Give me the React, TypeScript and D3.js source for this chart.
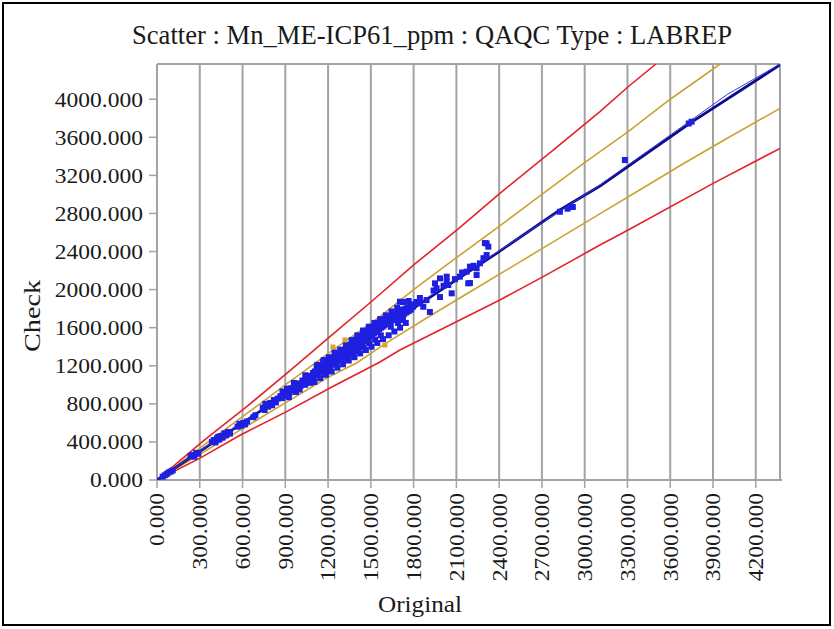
import React from "react";
import * as d3 from "d3";

// ---- data ----
const titleText = "Scatter : Mn_ME-ICP61_ppm : QAQC Type : LABREP";
const xLabel = "Original";
const yLabel = "Check";
const axisMax = 4370;
const xTicks = [0, 300, 600, 900, 1200, 1500, 1800, 2100, 2400, 2700, 3000, 3300, 3600, 3900, 4200];
const yTicks = [0, 400, 800, 1200, 1600, 2000, 2400, 2800, 3200, 3600, 4000];

// LABREP pairs [original, check]
const pairsLow: [number, number][] = [
  [40, 35], [55, 50], [68, 62], [80, 78], [95, 88], [110, 100],
  [235, 250], [250, 262], [262, 245], [275, 285], [290, 276],
  [385, 400], [398, 420], [410, 395], [422, 440], [436, 425], [448, 462], [460, 445], [472, 490], [485, 470], [498, 505], [512, 488], [430, 455],
  [565, 560], [578, 590], [592, 570], [605, 600], [618, 585], [632, 615], [676, 660], [690, 680],
];
const pairsMid: [number, number][] = [
  [742, 760], [755, 735], [768, 790], [780, 770], [795, 810], [808, 785], [820, 840], [834, 815], [846, 855], [760, 800],
  [865, 880], [878, 860], [892, 905], [905, 885], [918, 940], [930, 915], [944, 965], [956, 940], [968, 990], [980, 960],
  [994, 1015], [1006, 985], [1020, 1045], [1032, 1010], [1045, 1070], [1058, 1040], [1070, 1095], [1082, 1060], [1095, 1125],
  [912, 960], [975, 925], [1040, 1000], [880, 930], [925, 870], [960, 1020], [1000, 950], [1040, 1100], [1075, 1020],
  [1100, 1090], [1108, 1140], [1116, 1105], [1124, 1165], [1132, 1120], [1140, 1185], [1148, 1135], [1156, 1200], [1164, 1150],
  [1172, 1215], [1180, 1165], [1188, 1235], [1196, 1180], [1204, 1250], [1212, 1195], [1220, 1265], [1228, 1210], [1236, 1280],
  [1244, 1225], [1252, 1295], [1260, 1240], [1268, 1310], [1276, 1255], [1284, 1320], [1292, 1270], [1300, 1335],
  [1120, 1190], [1170, 1260], [1210, 1150], [1250, 1320],
];
const pairsDense: [number, number][] = [
  [1306, 1290], [1312, 1350], [1318, 1305], [1324, 1370], [1330, 1320], [1336, 1385], [1342, 1335], [1348, 1400], [1354, 1350],
  [1360, 1415], [1366, 1360], [1372, 1430], [1378, 1375], [1384, 1445], [1390, 1390], [1396, 1460], [1402, 1400], [1408, 1475],
  [1414, 1415], [1420, 1490], [1426, 1430], [1432, 1500], [1438, 1445], [1444, 1515], [1450, 1460], [1456, 1530], [1462, 1470],
  [1468, 1545], [1474, 1485], [1480, 1560], [1486, 1500], [1492, 1570], [1498, 1515], [1504, 1580], [1510, 1530], [1516, 1595],
  [1522, 1545], [1528, 1605], [1534, 1555], [1540, 1620], [1546, 1570], [1552, 1630], [1558, 1585], [1564, 1645], [1570, 1600],
  [1576, 1655], [1582, 1610], [1588, 1670], [1594, 1625], [1600, 1680],
  [1330, 1275], [1370, 1310], [1410, 1355], [1450, 1395], [1490, 1435], [1530, 1475], [1570, 1520],
  [1350, 1420], [1400, 1480], [1450, 1545], [1500, 1600], [1550, 1650],
  [1606, 1640], [1614, 1690], [1622, 1650], [1630, 1705], [1638, 1665], [1646, 1720], [1654, 1680], [1662, 1735], [1670, 1695],
  [1678, 1750], [1686, 1705], [1694, 1760], [1702, 1720], [1710, 1775], [1718, 1730], [1726, 1790], [1734, 1745], [1742, 1800],
  [1750, 1760], [1758, 1815], [1766, 1775], [1774, 1830], [1782, 1790], [1790, 1845], [1640, 1610], [1690, 1650],
  [1725, 1870], [1704, 1873], [1725, 1681],
];
const pairsBandEdges: [number, number][] = [
  [1105, 1030], [1125, 1210], [1145, 1070], [1165, 1245], [1185, 1105], [1205, 1290], [1225, 1140], [1245, 1340],
  [1265, 1180], [1285, 1370], [1305, 1215], [1325, 1420], [1345, 1255], [1365, 1470], [1385, 1290], [1405, 1520],
  [1425, 1330], [1445, 1570], [1465, 1365], [1485, 1610], [1505, 1400], [1525, 1650], [1545, 1440], [1565, 1690],
  [1585, 1480], [1605, 1730], [1625, 1520], [1645, 1770], [1665, 1560], [1685, 1810], [1705, 1600], [1745, 1650], [1765, 1880],
];
const pairsSpread: [number, number][] = [
  [1797, 1820], [1820, 1870], [1844, 1856], [1844, 1912], [1868, 1820], [1891, 1890], [1914, 1765], [1940, 1990], [1950, 2066],
  [1961, 2014], [1985, 1922], [1985, 2118], [2010, 2040], [2032, 2083], [2032, 2136], [2043, 2048], [2067, 1961], [2090, 2110],
  [2125, 2136], [2140, 2180], [2172, 2188], [2183, 2066], [2195, 2241], [2195, 2069], [2220, 2250], [2242, 2153], [2242, 2224],
  [2265, 2276], [2290, 2330], [2312, 2363], [2312, 2486], [2324, 2451], [2300, 2489],
];
const pairsHigh: [number, number][] = [
  [2826, 2818], [2880, 2850], [2917, 2868], [3282, 3361], [3730, 3745], [3750, 3764],
];
// points just outside the 10% limits (orange)
const pairsOutside10: [number, number][] = [
  [1234, 1397], [1318, 1471], [1599, 1418],
];

// limit lines [original, check]
const upperRed: [number, number][] = [
  [0, 0], [325, 410], [629, 770], [933, 1150], [1213, 1505], [1517, 1891], [1809, 2270], [2113, 2637],
  [2405, 3012], [2779, 3466], [3107, 3869], [3305, 4131], [3500, 4370],
];
const lowerRed: [number, number][] = [
  [0, 0], [302, 230], [582, 470], [909, 718], [1213, 966], [1564, 1240], [1704, 1366], [2405, 1891],
  [2709, 2136], [3107, 2468], [3305, 2626], [3901, 3116], [4370, 3484],
];
const upperGold: [number, number][] = [
  [0, 0], [300, 335], [600, 665], [900, 1000], [1234, 1365], [1564, 1716], [1800, 2000], [2100, 2335],
  [2400, 2665], [2709, 3010], [3000, 3335], [3305, 3659], [3600, 4000], [3950, 4370],
];
const lowerGold: [number, number][] = [
  [0, 0], [300, 270], [600, 540], [900, 810], [1200, 1080], [1400, 1229], [1599, 1430], [1900, 1710],
  [2200, 1980], [2500, 2250], [2800, 2520], [3100, 2790], [3400, 3060], [3700, 3330], [4000, 3590], [4370, 3904],
];
const trendLine: [number, number][] = [
  [0, 0], [800, 800], [1600, 1610], [2382, 2381], [2826, 2836], [3107, 3088], [3750, 3760], [4370, 4360],
];
const trendLineThin: [number, number][] = [
  [0, 0], [1600, 1620], [2382, 2390], [3107, 3100], [3700, 3730], [4000, 4050], [4370, 4370],
];

// ---- layout ----
const W = 834;
const H = 629;
const plotL = 157;
const plotR = 780;
const plotT = 64;
const plotB = 480;
const FONT = "'Liberation Serif', 'Times New Roman', serif";

export default function App() {
  const x = d3.scaleLinear().domain([0, axisMax]).range([plotL, plotR]);
  const y = d3.scaleLinear().domain([0, axisMax]).range([plotB, plotT]);
  const line = d3
    .line<[number, number]>()
    .x((d) => x(d[0]))
    .y((d) => y(d[1]));

  const allBlue = [...pairsLow, ...pairsMid, ...pairsDense, ...pairsBandEdges, ...pairsSpread, ...pairsHigh];
  const grid = "#a3a3a3";
  const ms = 6;

  return (
    <svg
      width={W}
      height={H}
      style={{ position: "absolute", left: 0, top: 0, background: "#fff" }}
      fontFamily={FONT}
    >
      <defs>
        <clipPath id="plotClip">
          <rect x={plotL} y={plotT} width={plotR - plotL} height={plotB - plotT} />
        </clipPath>
      </defs>
      <rect x={0} y={0} width={W} height={H} fill="#fff" />
      <rect x={3} y={3} width={827} height={622} fill="none" stroke="#000" strokeWidth={2} />

      <text
        x={132}
        y={44}
        fontSize={27}
        fill="#1a1a1a"
        textLength={600}
        lengthAdjust="spacingAndGlyphs"
      >
        {titleText}
      </text>

      {/* vertical grid lines */}
      {xTicks.filter((t) => t > 0).map((t) => (
        <line key={"g" + t} x1={x(t)} x2={x(t)} y1={plotT} y2={plotB} stroke={grid} strokeWidth={2} />
      ))}
      {/* plot frame */}
      <line x1={plotL} x2={plotR} y1={plotT} y2={plotT} stroke={grid} strokeWidth={2} />
      <line x1={plotR} x2={plotR} y1={plotT} y2={plotB} stroke={grid} strokeWidth={2} />
      <line x1={plotL} x2={plotL} y1={plotT} y2={plotB} stroke={grid} strokeWidth={2} />
      <line x1={plotL} x2={plotR + 2} y1={plotB} y2={plotB} stroke={grid} strokeWidth={2} />

      {/* y ticks */}
      {yTicks.map((t) => (
        <g key={"y" + t}>
          <line x1={plotL - 8} x2={plotL} y1={y(t)} y2={y(t)} stroke={grid} strokeWidth={1.5} />
          <text
            transform={`translate(143,${y(t)}) scale(1.12,1)`}
            textAnchor="end"
            dy="0.35em"
            fontSize={21}
            fill="#1a1a1a"
          >
            {t.toFixed(3)}
          </text>
        </g>
      ))}
      {/* x ticks */}
      {xTicks.map((t) => (
        <g key={"x" + t}>
          <line x1={x(t)} x2={x(t)} y1={plotB} y2={plotB + 8} stroke={grid} strokeWidth={1.5} />
          <text
            transform={`translate(${x(t)},493) rotate(-90) scale(1.12,1)`}
            textAnchor="end"
            dy="0.35em"
            fontSize={21}
            fill="#1a1a1a"
          >
            {t.toFixed(3)}
          </text>
        </g>
      ))}

      <text x={420} y={612} textAnchor="middle" fontSize={23} fill="#1a1a1a" textLength={84} lengthAdjust="spacingAndGlyphs">
        {xLabel}
      </text>
      <text
        transform={`translate(40,316) rotate(-90)`}
        textAnchor="middle"
        fontSize={23}
        fill="#1a1a1a"
        textLength={72}
        lengthAdjust="spacingAndGlyphs"
      >
        {yLabel}
      </text>

      <g clipPath="url(#plotClip)" fill="none">
        <path d={line(upperRed) || ""} stroke="#e3222c" strokeWidth={1.6} />
        <path d={line(lowerRed) || ""} stroke="#e3222c" strokeWidth={1.6} />
        <path d={line(upperGold) || ""} stroke="#c9a231" strokeWidth={1.6} />
        <path d={line(lowerGold) || ""} stroke="#c9a231" strokeWidth={1.6} />
        <path d={line(trendLine) || ""} stroke="#0c0c86" strokeWidth={2.8} />
        <path d={line(trendLineThin) || ""} stroke="#3a3ae0" strokeWidth={1} />
      </g>

      <g clipPath="url(#plotClip)">
        {allBlue.map((d, i) => (
          <rect key={"p" + i} x={x(d[0]) - ms / 2} y={y(d[1]) - ms / 2} width={ms} height={ms} fill="#1f1fe0" />
        ))}
        {pairsOutside10.map((d, i) => (
          <rect key={"o" + i} x={x(d[0]) - 2.5} y={y(d[1]) - 2.5} width={5} height={5} fill="#e0a030" />
        ))}
      </g>
    </svg>
  );
}
